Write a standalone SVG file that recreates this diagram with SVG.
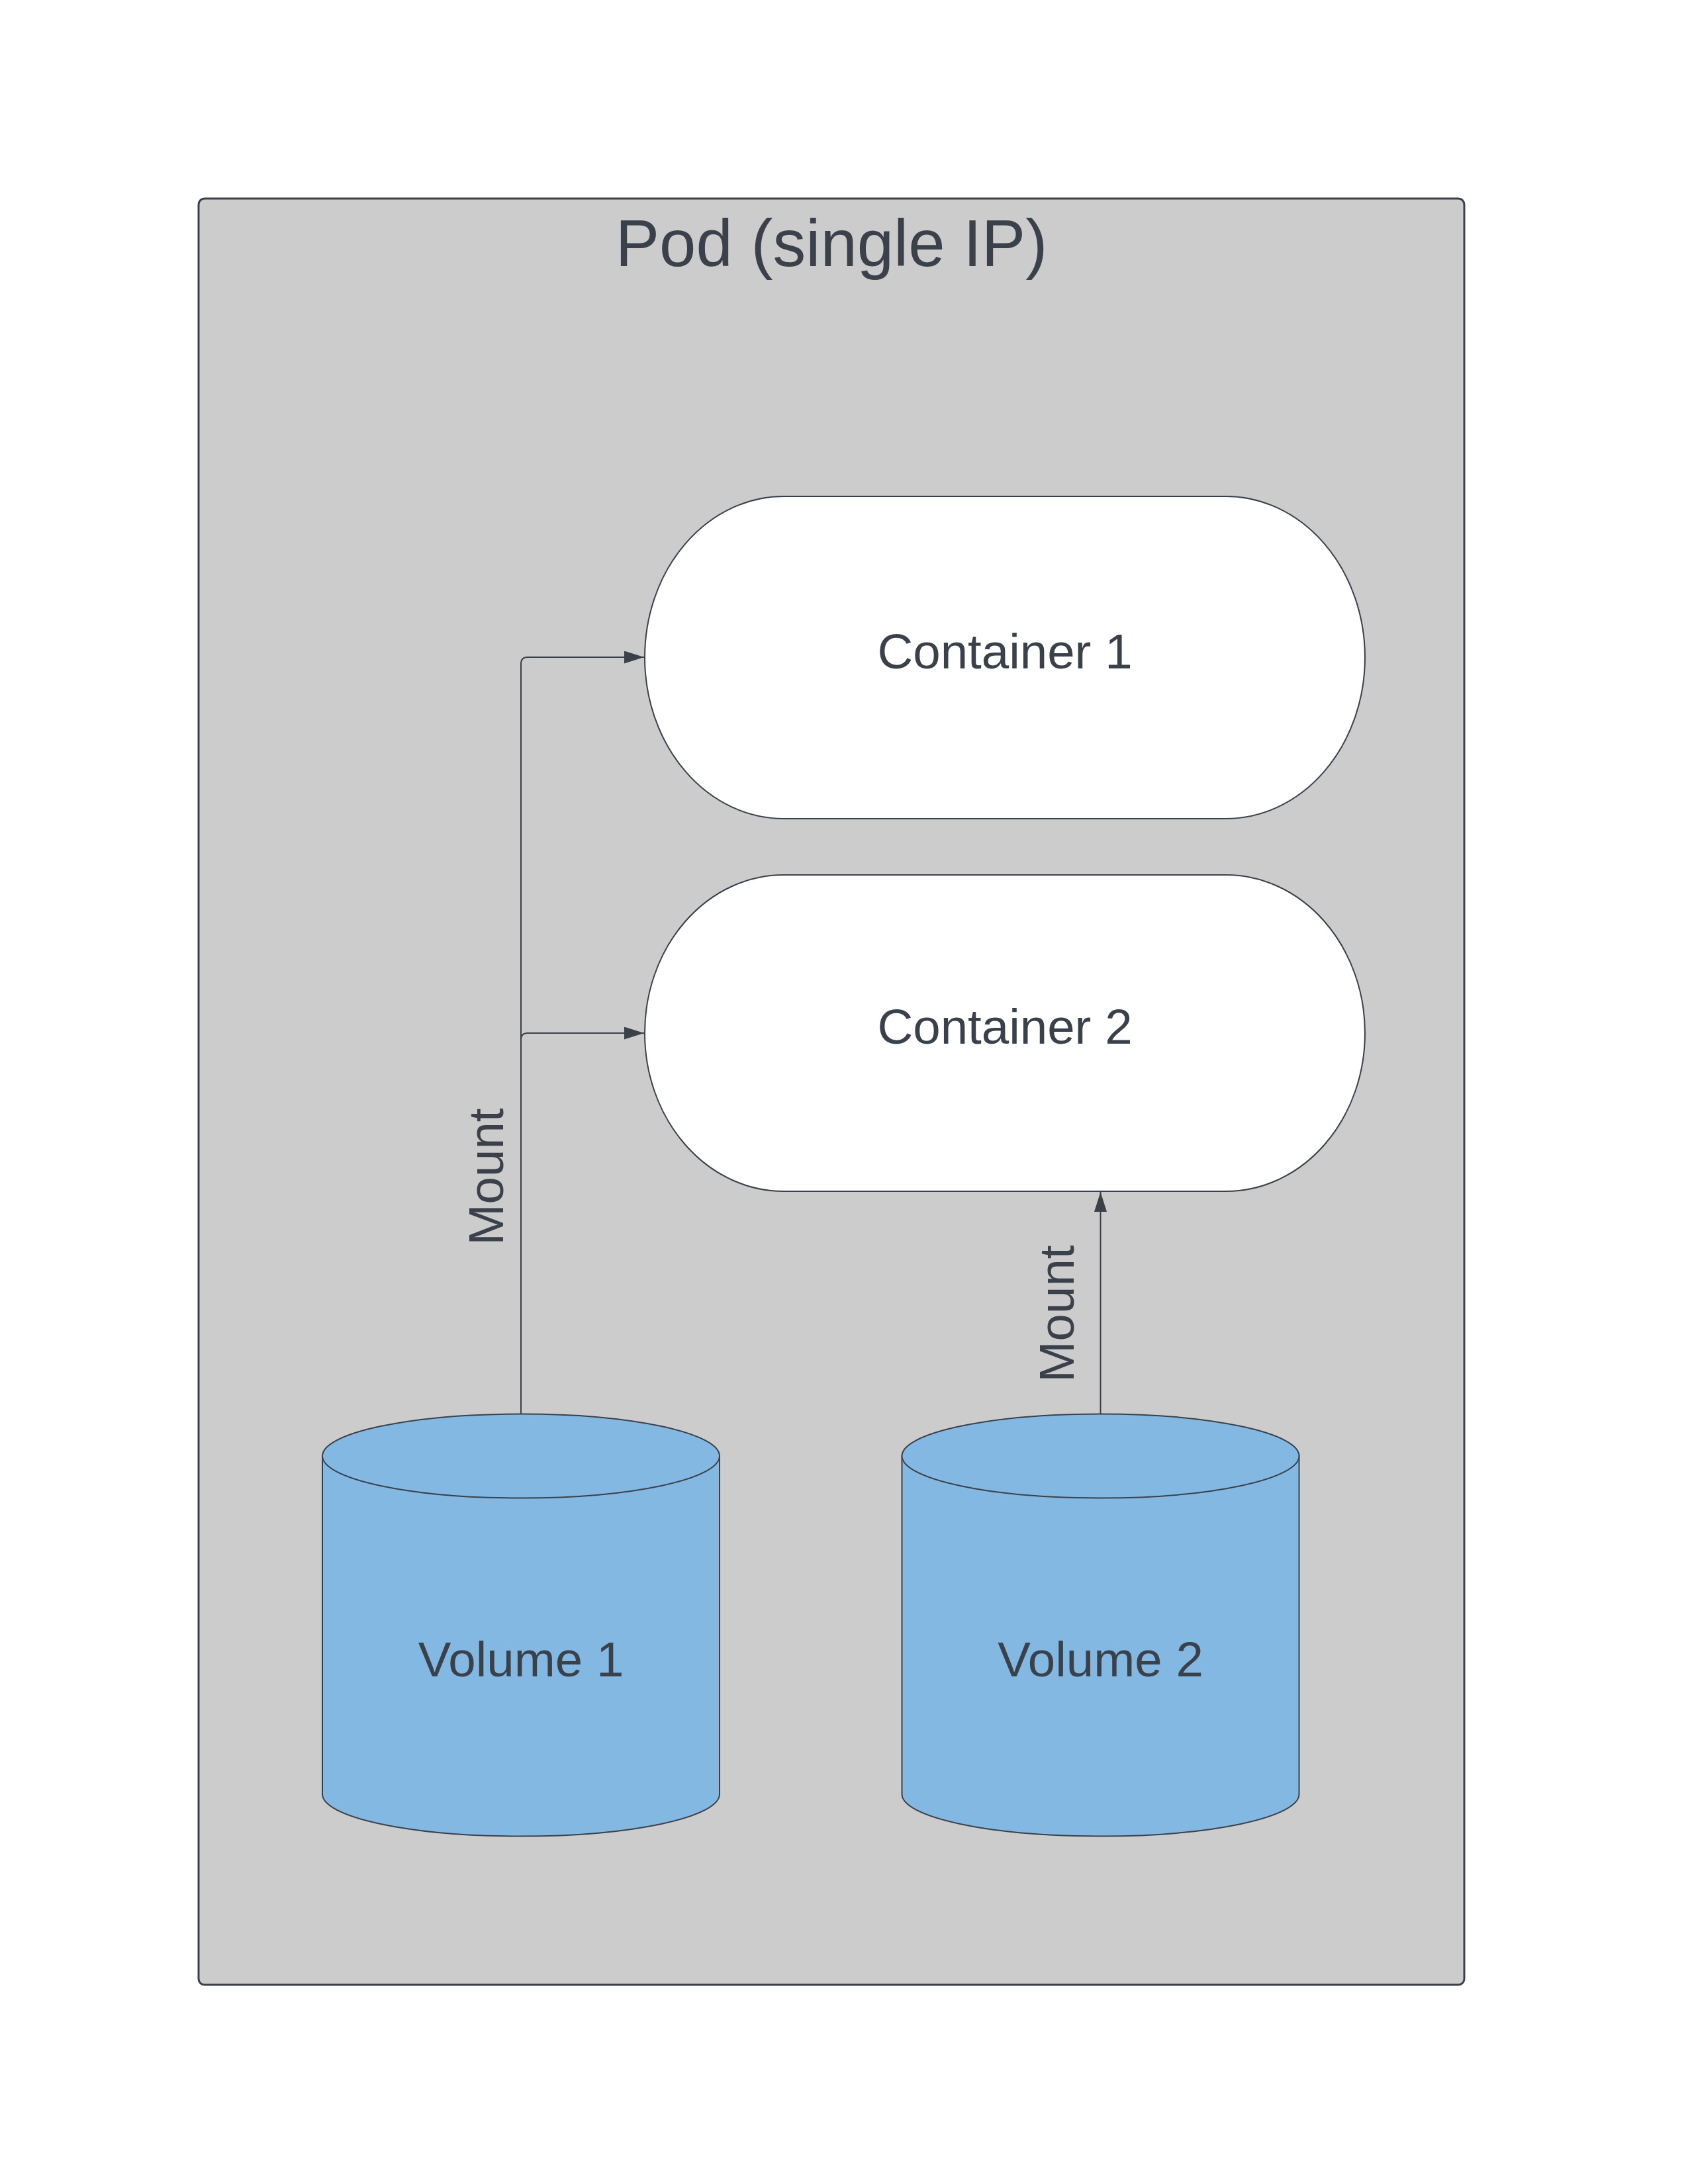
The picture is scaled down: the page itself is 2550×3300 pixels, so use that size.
<svg xmlns="http://www.w3.org/2000/svg" width="2550" height="3300" viewBox="0 0 2550 3300">
<style>
text{font-family:"Liberation Sans",Arial,sans-serif;fill:#3a414a;text-anchor:middle}
.lbl{font-size:74.5px}
.title{font-size:99.5px}
.shape{stroke:#3a414a;stroke-width:2}
.conn{fill:none;stroke:#3a414a;stroke-width:2}
.cyl{fill:#83b8e2;stroke:#3a414a;stroke-width:2}
</style>
<defs>
<marker id="arrow" markerUnits="userSpaceOnUse" markerWidth="30" markerHeight="20" refX="30" refY="9.5" orient="auto">
<path d="M0,0 L30,9.5 L0,19 Z" fill="#3a414a"/>
</marker>
</defs>
<rect width="2550" height="3300" fill="#ffffff"/>
<g id="pod">
<rect x="300" y="300" width="1912" height="2699" rx="9" fill="#cccccc" stroke="#3a414a" stroke-width="3"/>
<text class="title" x="1256" y="402">Pod (single IP)</text>
</g>
<g id="container1">
<path class="shape" fill="#ffffff" d="M1184,750 L1852,750 A210,243.5 0 0 1 1852,1237 L1184,1237 A210,243.5 0 0 1 1184,750 Z"/>
<text class="lbl" x="1518" y="1010">Container 1</text>
</g>
<g id="container2">
<path class="shape" fill="#ffffff" d="M1184,1322 L1852,1322 A210,239 0 0 1 1852,1800 L1184,1800 A210,239 0 0 1 1184,1322 Z"/>
<text class="lbl" x="1518" y="1577">Container 2</text>
</g>
<g id="volume1">
<path class="cyl" d="M487,2200 L487,2711 A300,63.5 0 0 0 1087,2711 L1087,2200 Z"/>
<ellipse class="cyl" cx="787" cy="2200" rx="300" ry="63.5"/>
<text class="lbl" x="787" y="2533">Volume 1</text>
</g>
<g id="volume2">
<path class="cyl" d="M1362.5,2200 L1362.5,2711 A300,63.5 0 0 0 1962.5,2711 L1962.5,2200 Z"/>
<ellipse class="cyl" cx="1662.5" cy="2200" rx="300" ry="63.5"/>
<text class="lbl" x="1662.5" y="2533">Volume 2</text>
</g>
<g id="connectors">
<path class="conn" d="M787,2137 L787,1003 Q787,993 797,993 L973,993" marker-end="url(#arrow)"/>
<path class="conn" d="M787,2137 L787,1571 Q787,1561 797,1561 L973,1561" marker-end="url(#arrow)"/>
<path class="conn" d="M1662.5,2137 L1662.5,1801" marker-end="url(#arrow)"/>
<text class="lbl" transform="translate(760,1778) rotate(-90)" x="0" y="0">Mount</text>
<text class="lbl" transform="translate(1622,1985) rotate(-90)" x="0" y="0">Mount</text>
</g>
</svg>
